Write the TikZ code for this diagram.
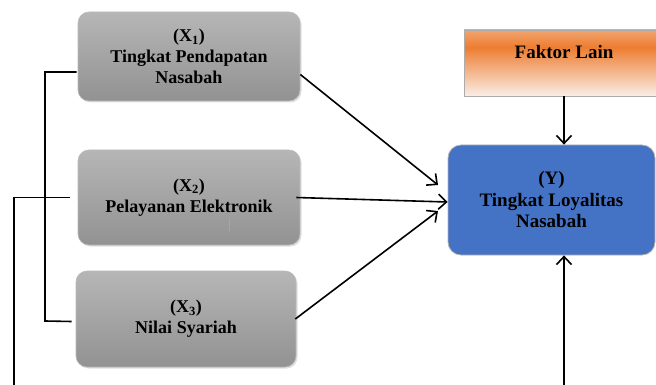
\documentclass[tikz,border=0pt]{standalone}
\usepackage{fontspec}
\setmainfont{Liberation Serif}
\usetikzlibrary{arrows.meta,shadows}
\definecolor{gtop}{RGB}{182,182,182}
\definecolor{gbot}{RGB}{146,146,146}
\definecolor{yblue}{RGB}{68,114,196}
\definecolor{ftop}{RGB}{242,165,110}
\definecolor{fmid}{RGB}{237,125,49}
\definecolor{fbot}{RGB}{250,238,230}
\pgfdeclareverticalshading{fshade}{100bp}{color(0bp)=(fbot); color(25bp)=(fbot); color(62bp)=(fmid); color(75bp)=(ftop); color(100bp)=(ftop)}
\begin{document}
\begin{tikzpicture}[x=1pt,y=-1pt,
  gbox/.style={rounded corners=11pt, top color=gtop, bottom color=gbot, draw=gray!55, line width=0.6pt,
    font=\bfseries\fontsize{18}{21}\selectfont, align=center, inner sep=0pt,
    drop shadow={shadow xshift=1.5pt, shadow yshift=-1.5pt, opacity=0.25}},
  ybox/.style={rounded corners=13pt, fill=yblue, draw=gray!60, line width=0.8pt,
    font=\bfseries\fontsize{19}{21.5}\selectfont, align=center, inner sep=0pt},
  fbox/.style={shading=fshade, draw=gray!65, line width=0.7pt,
    font=\bfseries\fontsize{19}{21}\selectfont, align=center, inner sep=0pt},
  conn/.style={line width=1.6pt, black},
  arr/.style={conn, -{Straight Barb[length=8pt,width=15pt,line width=1.6pt]}}]
\useasboundingbox (0,0) rectangle (656,385);
\node[gbox, minimum width=222pt, minimum height=89pt] (x1) at (189,56.5)
  {(X\textsubscript{1})\\Tingkat Pendapatan\\Nasabah};
\node[gbox, minimum width=222pt, minimum height=95pt] (x2) at (189,197.5)
  {(X\textsubscript{2})\\Pelayanan Elektronik};
\node[gbox, minimum width=220pt, minimum height=96pt] (x3) at (186,319)
  {(X\textsubscript{3})\\Nilai Syariah};
\node[ybox, minimum width=207pt, minimum height=110pt] (y) at (551.5,200)
  {(Y)\\Tingkat Loyalitas\\Nasabah};
\node[fbox, minimum width=200pt, minimum height=66pt] (f) at (564,63)
  {Faktor Lain\\[2pt]\mbox{}};
% stray mark inside X2
\draw[gray!70, line width=0.6pt] (229,217) -- (229,231);
% arrows into Y
\coordinate (t1) at (438,185);
\coordinate (t3) at (438,211);
\coordinate (bot) at (564,386);
\draw[arr] ([yshift=-18pt]x1.east) -- (t1);
\draw[arr] ([xshift=-4pt]x2.east) -- ([yshift=-2pt]y.west);
\draw[arr] ([xshift=-1pt]x3.east) -- (t3);
\draw[arr] (f.south) -- (f.south |- y.north);
\draw[arr] (bot) -- (bot |- y.south);
% left connectors
\coordinate (e2) at (14,386);
\draw[conn] ([xshift=-1pt,yshift=-15.5pt]x1.west) -| (45,321) -- ([xshift=-4pt,yshift=-2.5pt]x3.west);
\draw[conn] ([xshift=-8pt]x2.west) -| (e2);
\end{tikzpicture}
\end{document}
